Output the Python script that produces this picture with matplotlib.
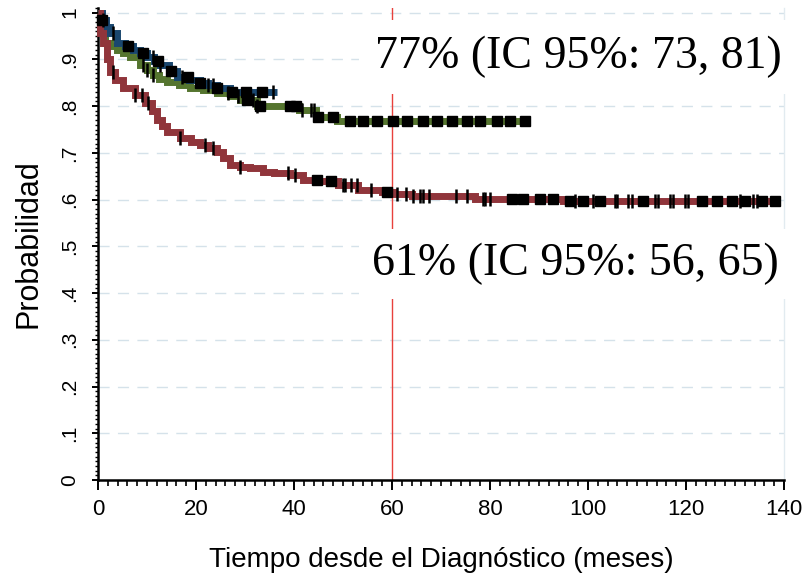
import matplotlib
matplotlib.use('Agg')
import matplotlib.pyplot as plt
import numpy as np
from matplotlib.ticker import MultipleLocator, FixedLocator

# Kaplan-Meier estimates (months, survival probability)
t_blue = [0, 0.8, 1.6, 2.4, 3.9, 5.5, 7.1, 8.5, 10, 11.5, 12.7, 14.5, 16.1, 18.5, 20.8, 22.5, 24.3, 27]
s_blue = [1.0, 0.985, 0.97, 0.957, 0.936, 0.928, 0.921, 0.913, 0.906, 0.897, 0.889, 0.875, 0.863, 0.856, 0.850, 0.845, 0.839, 0.831]
end_blue = 36.5

t_green = [0, 0.4, 1.4, 2.5, 3.9, 5.2, 6.5, 8.6, 10, 11.2, 12.5, 14.1, 16.5, 18.8, 21.5, 24.3, 27, 29, 32.5, 41, 44.5, 48.8]
s_green = [1.0, 0.968, 0.936, 0.928, 0.921, 0.913, 0.906, 0.889, 0.878, 0.867, 0.858, 0.852, 0.845, 0.839, 0.834, 0.829, 0.822, 0.814, 0.80, 0.792, 0.777, 0.769]
end_green = 88.2

t_red = [0, 0.4, 1.0, 1.8, 2.5, 3.5, 5.1, 7.5, 9.5, 11, 12, 13, 14.1, 16.7, 19, 20.8, 22.5, 24.3, 25.5, 26.9,
         29, 31, 33.7, 36, 39.2, 41.8, 45, 49, 53, 58, 60.5, 64, 77, 95]
s_red = [1.0, 0.957, 0.936, 0.90, 0.874, 0.857, 0.839, 0.824, 0.807, 0.79, 0.771, 0.758, 0.745, 0.732, 0.724, 0.717,
         0.71, 0.702, 0.69, 0.675, 0.67, 0.668, 0.660, 0.657, 0.653, 0.642, 0.64, 0.632, 0.621, 0.617, 0.612, 0.608,
         0.602, 0.598]
end_red = 138.8

# censored observations (single ticks and tied clusters drawn as squares)
blue_ticks = [1.0, 3.1, 11.2, 12.7, 17.1, 22.5, 23.5, 35.8]
blue_squares = [0.8, 6.1, 9.2, 12.3, 15.0, 18.4, 20.8, 24.3, 27.3, 30.2, 33.5]
green_ticks = [9.2, 10.1, 11.3, 26.5, 28.5, 31.6, 32.5, 41.6, 43.4, 44.0]
green_squares = [30.5, 33, 39.2, 40.5, 44.9, 48, 51.4, 54.1, 56.9, 60.2, 63.1, 66.3, 69.2, 72.2, 75.3, 78,
                 81.4, 84.1, 87.1]
red_ticks = [3.1, 7.5, 9, 10.2, 16.7, 21.8, 23.5, 29, 38.8, 40.2, 50, 50.4, 51.6, 52.8, 55.7, 61, 62.8, 64.3,
             65.7, 66.3, 67.6, 73, 75.3, 78.6, 79, 80, 97.3, 101, 105.5, 106, 108.2, 109, 113.7, 114.3, 116.7,
             117.3, 119.8, 120.4, 131, 133.7, 134.5]
red_squares = [44.7, 47.6, 59, 84.5, 86.7, 90.2, 92.9, 96.3, 99, 102.4, 111.2, 123.3, 126.3, 129.4, 132,
               135.5, 138.2]

y_ticks = [0, 0.1, 0.2, 0.3, 0.4, 0.5, 0.6, 0.7, 0.8, 0.9, 1.0]
y_ticklabels = ['0', '.1', '.2', '.3', '.4', '.5', '.6', '.7', '.8', '.9', '1']
x_ticks = [0, 20, 40, 60, 80, 100, 120, 140]
ref_month = 60
label_77 = '77% (IC 95%: 73, 81)'
label_61 = '61% (IC 95%: 56, 65)'

sans = ['Liberation Sans', 'DejaVu Sans']
serif = ['Liberation Serif', 'DejaVu Serif']

fig = plt.figure(figsize=(8.04, 5.83), dpi=100)
ax = fig.add_axes([98 / 804, 103 / 583, 686 / 804, 472 / 583])


def surv_at(times, t_steps, s_steps):
    idx = np.searchsorted(t_steps, times, side='right') - 1
    return np.asarray(s_steps)[idx]


curves = [
    (t_green, s_green, end_green, green_ticks, green_squares, '#55752f'),
    (t_blue, s_blue, end_blue, blue_ticks, blue_squares, '#1a476f'),
    (t_red, s_red, end_red, red_ticks, red_squares, '#90353b'),
]
for t, s, end, ticks, squares, col in curves:
    tt = list(t) + [end]
    ss = list(s) + [s[-1]]
    ax.step(tt, ss, where='post', color=col, lw=5.0, zorder=3, clip_on=False,
            solid_joinstyle='miter', solid_capstyle='butt')
    ax.plot(ticks, surv_at(ticks, t, s), ls='none', marker='|', ms=10, mew=1.8,
            color='black', zorder=4, clip_on=False)
    ax.plot(squares, surv_at(squares, t, s), ls='none', marker='s', ms=7,
            color='black', zorder=4, clip_on=False)

ax.axvline(ref_month, color='#e8413c', lw=1.0, zorder=2)

ax.set_xlim(0, 140)
ax.set_ylim(0, 1.01)

ax.yaxis.set_major_locator(FixedLocator(y_ticks))
ax.set_yticklabels(y_ticklabels, rotation=90, va='center', fontsize=15, family=sans)
ax.yaxis.set_minor_locator(MultipleLocator(0.01))
ax.xaxis.set_major_locator(FixedLocator(x_ticks))
ax.set_xticklabels([str(v) for v in x_ticks], fontsize=16, family=sans)
ax.xaxis.set_minor_locator(MultipleLocator(2))

ax.tick_params(axis='x', which='major', length=7, width=1.4, pad=7)
ax.tick_params(axis='x', which='minor', length=4, width=1.2)
ax.tick_params(axis='y', which='major', length=4.5, width=1.4, pad=9)
ax.tick_params(axis='y', which='minor', length=2.5, width=1.0)

for yv in y_ticks:
    ax.axhline(yv, color='#d5e2ea', lw=1.0, ls=(0, (8, 6)), zorder=1)

ax.spines['top'].set_visible(False)
ax.spines['right'].set_color('#e2ebf0')
ax.spines['right'].set_linewidth(1.0)
ax.spines['left'].set_linewidth(1.8)
ax.spines['bottom'].set_linewidth(1.8)

ax.set_ylabel('Probabilidad', fontsize=22, family=sans, labelpad=12)
ax.set_xlabel('Tiempo desde el Diagnóstico (meses)', fontsize=20, family=sans, labelpad=19)

ax.text(56.6, 0.905, label_77, fontsize=33, family=serif, va='center', ha='left', zorder=6,
        bbox=dict(boxstyle='square,pad=0.35', fc='white', ec='none'))
ax.text(56.0, 0.462, label_61, fontsize=33, family=serif, va='center', ha='left', zorder=6,
        bbox=dict(boxstyle='square,pad=0.3', fc='white', ec='none'))

fig.savefig('out.png', dpi=100)
